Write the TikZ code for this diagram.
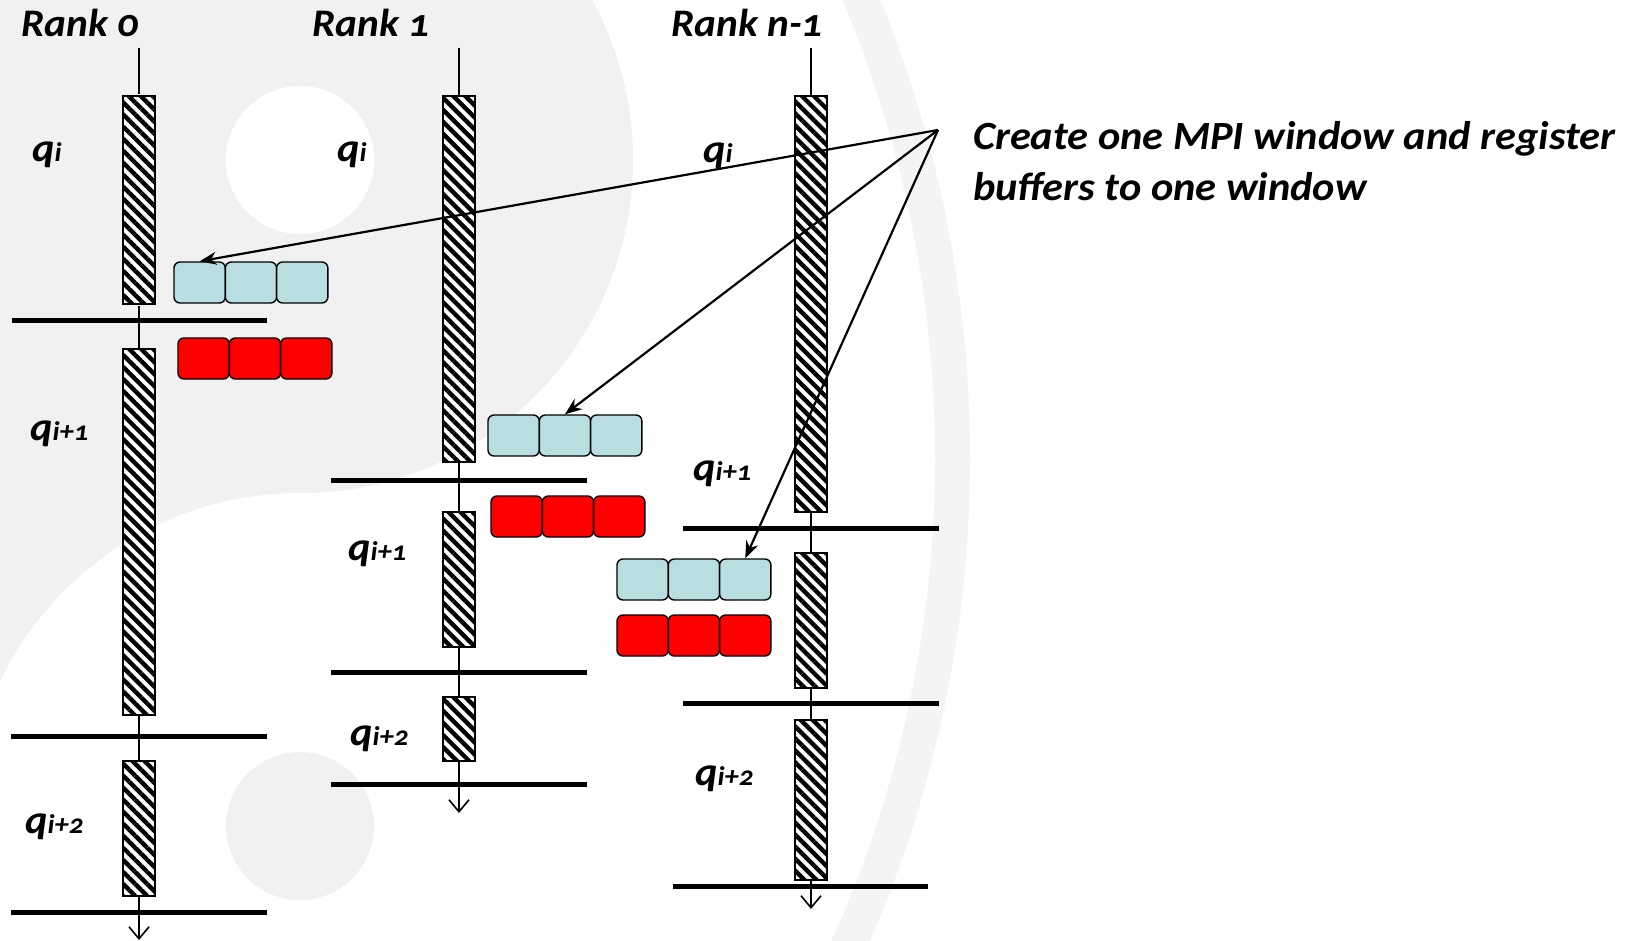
\documentclass[tikz,border=0pt]{standalone}
\usepackage{fontspec}
\setmainfont{Carlito}[Numbers=OldStyle, FakeStretch=1.06]
\usetikzlibrary{arrows.meta,patterns.meta}

\definecolor{cellblue}{HTML}{B8DEE1}
\definecolor{cellred}{HTML}{FF0000}
\definecolor{wmgray}{HTML}{F1F1F1}
\definecolor{ringgray}{HTML}{F4F4F4}

% q with a smaller index on the same baseline
\newcommand{\qlab}[1]{{\fontsize{40}{40}\selectfont q}{\fontsize{27}{27}\selectfont #1}}

\begin{document}
\begin{tikzpicture}[x=1pt, y=-1pt,
		bar/.style={draw, line width=1.4pt, minimum width=32pt, inner sep=0pt,
			preaction={fill=white}, pattern={Lines[angle=-45, distance=8.5pt, line width=4.4pt]}},
		cell/.style={draw, line width=1.4pt, rounded corners=6pt, minimum width=51.3pt,
			minimum height=41pt, inner sep=0pt},
		rank/.style={anchor=base west, inner sep=0pt, font=\bfseries\itshape\fontsize{39}{39}\selectfont},
		qtext/.style={anchor=base west, inner sep=0pt, font=\bfseries\itshape},
		tline/.style={line width=1.8pt},
		sep/.style={line width=5pt},
		ptr/.style={line width=2.2pt, -{Stealth[length=17pt, width=13pt]}},
		fin/.style={line width=1.6pt, -{Straight Barb[length=12pt, width=20pt]}}]
		\useasboundingbox (0,0) rectangle (1637,941);
		\fill[white] (0,0) rectangle (1637,941);

		% Faint background emblem
		\begin{scope}
			\clip (0,0) rectangle (1637,941);
			\fill[ringgray, even odd rule] (-240,458) circle (1210pt) (-240,458) circle (1175pt);
			\begin{scope}
				\clip (-240,458) circle (1175pt);
				\fill[wmgray] (-50,-200) rectangle (300,1200);
				\fill[wmgray] (300,160) circle (333pt);
				\fill[white] (300,826) circle (333pt);
				\fill[wmgray] (300,826) circle (74pt);
				\fill[white] (300,160) circle (74pt);
			\end{scope}
		\end{scope}

		% Rank headings
		\node[rank] (rk0) at (21,37) {Rank 0};
		\node[rank] (rk1) at (312,37) {Rank 1};
		\node[rank] (rk2) at (671,37) {Rank n-1};

		% Work phases of each rank
		\foreach \n/\x/\t/\b in {b0-a/139/96/304, b0-b/139/349/715, b0-c/139/761/896,
			b1-a/459/96/462, b1-b/459/512/647, b1-c/459/697/761,
			b2-a/811/96/512, b2-b/811/553/688, b2-c/811/720/880}
			\node[bar, minimum height={(\b-\t)*1pt}] (\n) at (\x,{(\t+\b)/2}) {};

		% Time lines
		\foreach \r/\x/\e in {0/139/940, 1/459/813, 2/811/909} {
			\coordinate (top\r) at (\x,48);
			\coordinate (end\r) at (\x,\e);
			\draw[tline] (top\r) -- (b\r-a.north) (b\r-a.south) -- (b\r-b.north) (b\r-b.south) -- (b\r-c.north);
			\draw[fin] (b\r-c.south) -- (end\r);
		}

		% Iteration boundaries
		\foreach \y/\a/\b in {320/12/267, 736/11/267, 912/11/267,
			480/331/587, 672/331/587, 784/331/587,
			528/683/939, 703/683/939, 886/673/928}
			\draw[sep] (\a,\y) -- (\b,\y);

		% Buffers
		\foreach \r/\cx/\cy/\rx/\ry in {0/174/262/178/338, 1/488/415/491/496, 2/617/559/617/615}
			\foreach \k in {1,2,3} {
				\node[cell, fill=cellblue] (c\r-\k) at ({\cx+25.65+51.3*(\k-1)},{\cy+20.5}) {};
				\node[cell, fill=cellred] (m\r-\k) at ({\rx+25.65+51.3*(\k-1)},{\ry+20.5}) {};
			}

		% Phase labels
		\foreach \n/\x/\y/\s in {q0-a/32/162/i, q0-b/30/440/i+1, q0-c/25/833/i+2,
			q1-a/337/162/i, q1-b/348/560/i+1, q1-c/350/745/i+2,
			q2-a/703/163/i, q2-b/693/480/i+1, q2-c/695/785/i+2}
			\node[qtext] (\n) at (\x,\y) {\qlab{\s}};

		% Window note and its pointers
		\node[anchor=base west, align=left, inner sep=0pt,
			font=\bfseries\itshape\fontsize{40}{51}\selectfont] (note) at (973,201)
			{Create one MPI window and register\\buffers to one window};
		\coordinate (src) at (938,130);
		\draw[ptr] (src) -- (c0-1.north);
		\draw[ptr] (src) -- (c1-2.north);
		\draw[ptr] (src) -- (c2-3.north);
	\end{tikzpicture}
\end{document}
